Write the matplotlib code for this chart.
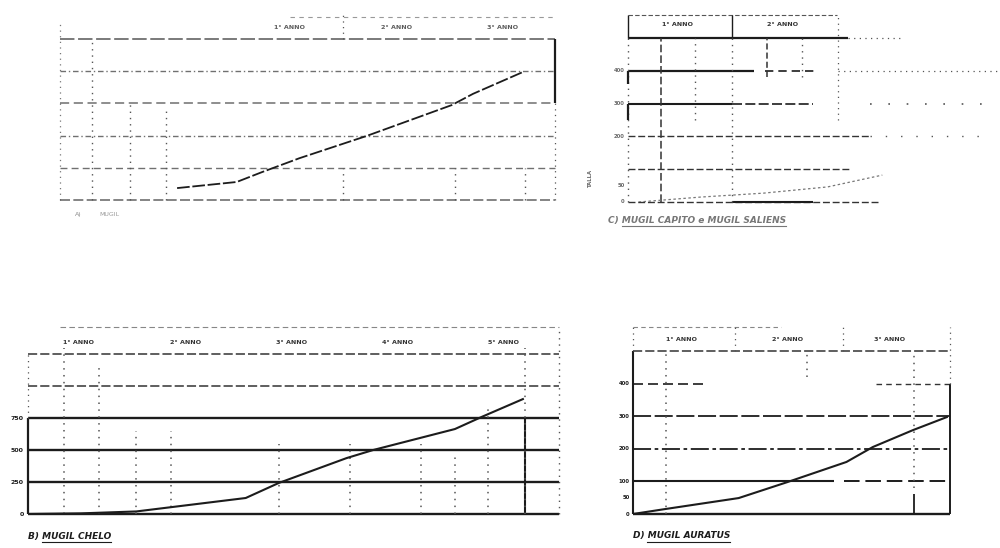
import matplotlib
matplotlib.use('Agg')
import matplotlib.pyplot as plt
from matplotlib.lines import Line2D

plt.rcParams['font.family'] = ['DejaVu Sans']

# growth curves (x in years, y in the panel's units)
a_years = [1.10, 1.66, 1.90, 2.25, 2.88, 3.68, 3.88, 4.35]
a_size = [3.7, 5.6, 8.7, 13.0, 19.9, 29.5, 33.0, 39.8]

b_years = [0, 0.5, 1.02, 2.05, 2.36, 3.0, 3.25, 4.02, 4.27, 4.66]
b_size = [0, 5, 20, 125, 242, 437, 500, 664, 758, 898]

c_years = [0.1, 0.69, 1.29, 1.90, 2.42]
c_size = [0, 15, 27, 46, 82]

d_years = [0, 0.3, 1.0, 1.46, 2.02, 2.27, 2.65, 2.97]
d_size = [0, 15, 49, 98, 160, 206, 258, 298]

# header labels (age classes)
a_heads = ['1° ANNO', '2° ANNO', '3° ANNO']
b_heads = ['1° ANNO', '2° ANNO', '3° ANNO', '4° ANNO', '5° ANNO']
c_heads = ['1° ANNO', '2° ANNO']
d_heads = ['1° ANNO', '2° ANNO', '3° ANNO']

b_ticks = [0, 250, 500, 750]
c_ticks = [0, 50, 200, 300, 400]
d_ticks = [0, 50, 100, 200, 300, 400]

captions = ['A) MUGIL', 'B) MUGIL CHELO', 'C) MUGIL CAPITO e MUGIL SALIENS', 'D) MUGIL AURATUS']

INK = '#1c1c1c'
GREY = '#555555'
DOT = (0, (1, 3.5))

fig = plt.figure(figsize=(10, 5.48), dpi=100)


def panel(x0, x1, ytop, ybot, xlim, ylim):
    ax = fig.add_axes([x0 / 1000, 1 - ybot / 548, (x1 - x0) / 1000, (ybot - ytop) / 548])
    ax.set_xlim(xlim)
    ax.set_ylim(ylim)
    ax.axis('off')
    return ax


def hl(ax, y, x0, x1, ls='-', lw=1.4, c=INK, a=1.0):
    ax.plot([x0, x1], [y, y], ls=ls, lw=lw, color=c, alpha=a, clip_on=False, solid_capstyle='butt')


def vl(ax, x, y0, y1, ls=DOT, lw=1.0, c=GREY, a=1.0):
    ax.plot([x, x], [y0, y1], ls=ls, lw=lw, color=c, alpha=a, clip_on=False, solid_capstyle='butt')


def heads(ax, labels, xs, y, a=1.0):
    for lab, x in zip(labels, xs):
        ax.text(x, y, lab, ha='center', va='center', fontsize=4.6, fontweight='bold',
                color='#333333', alpha=a)


def caption(ax, text, x, y, a=1.0):
    t = ax.text(x, y, text, transform=ax.transAxes, fontsize=6.5, fontstyle='italic',
                fontweight='bold', color=INK, alpha=a, va='baseline', ha='left')
    return t


# ---------------- A (top left)
axa = panel(60, 555, 15, 200, (0, 4.65), (0, 57.5))
for lev, ls, lw in [(0, (0, (6, 2)), 1.2), (10, (0, (5, 3)), 1.0), (20, (0, (4, 2, 1, 2)), 1.0),
                    (30, (0, (6, 3)), 1.1), (40, (0, (4, 2, 1, 2)), 1.0), (50, (0, (8, 2)), 1.3)]:
    hl(axa, lev, 0, 4.65, ls=ls, lw=lw, c='#333333', a=0.7)
hl(axa, 56.8, 2.16, 4.65, ls=(0, (4, 4)), lw=0.8, c=GREY, a=0.6)
vl(axa, 2.66, 50, 57.5, lw=0.9)
vl(axa, 0, 0, 55, lw=0.9, a=0.8)
vl(axa, 4.65, 30, 50, ls='-', lw=1.6, c=INK)
vl(axa, 4.65, 0, 30, lw=0.9)
for x, y0, y1 in [(0.30, 0, 50), (0.66, 0, 30), (1.0, 0, 28), (2.66, 0, 10),
                  (3.71, 0, 10), (4.37, 0, 10)]:
    vl(axa, x, y0, y1, lw=1.0)
axa.plot(a_years, a_size, ls=(0, (7, 1.5)), lw=1.3, color=INK)
heads(axa, a_heads, [2.16, 3.16, 4.16], 53.7, a=0.8)
axa.text(0.03, -0.08, 'A)', transform=axa.transAxes, fontsize=4.5, color='#888888', va='center')
axa.text(0.08, -0.08, 'MUGIL', transform=axa.transAxes, fontsize=4.5, color='#999999', va='center')

# ---------------- B (bottom left)
axb = panel(28, 559, 325, 514, (0, 5), (0, 1477))
for lev in [0, 250, 500, 750]:
    hl(axb, lev, 0, 5, lw=1.7)
hl(axb, 1000, 0, 5, ls=(0, (6, 2)), lw=1.1, c='#333333')
hl(axb, 1250, 0, 5, ls=(0, (6, 2)), lw=1.1, c='#333333')
hl(axb, 1461, 0.3, 5, ls=(0, (5, 3)), lw=0.8, c=GREY, a=0.7)
vl(axb, 0, 0, 750, ls='-', lw=1.6, c=INK)
vl(axb, 0, 750, 1250, lw=0.9)
vl(axb, 4.68, 0, 750, ls='-', lw=1.5, c=INK)
vl(axb, 5.0, 0, 1460, lw=1.0)
for x, top in zip([0.34, 0.67, 1.02, 1.35, 2.36, 3.03, 3.70, 4.02, 4.33, 4.68],
                  [1300, 1150, 650, 650, 550, 550, 550, 480, 820, 1300]):
    vl(axb, x, 0, top, lw=1.1)
axb.plot(b_years, b_size, lw=1.5, color=INK)
heads(axb, b_heads, [i + 0.48 for i in range(5)], 1344)
for v in b_ticks:
    axb.text(-0.04, v, str(v), ha='right', va='center', fontsize=4.5, fontweight='bold', color=INK)

# ---------------- C (top right)
axc = panel(628, 1000, 15, 202, (0, 3.54), (0, 570))
hl(axc, 500, 0, 2.09, lw=1.6)
hl(axc, 500, 2.09, 2.6, ls=DOT, lw=0.9, c=GREY)
hl(axc, 400, 0, 1.2, lw=1.6)
hl(axc, 400, 1.3, 1.8, ls=(0, (5, 3)), lw=1.2)
hl(axc, 400, 2.0, 3.54, ls=DOT, lw=0.9, c=GREY)
hl(axc, 300, 0, 0.99, lw=1.5)
hl(axc, 300, 0.99, 1.76, ls=(0, (6, 2)), lw=1.2)
hl(axc, 300, 2.3, 3.5, ls=(0, (1, 10)), lw=1.2, c=GREY)
hl(axc, 200, 0, 2.3, ls=(0, (5, 2)), lw=1.0, c='#333333')
hl(axc, 200, 2.3, 3.4, ls=(0, (1, 10)), lw=1.0, c=GREY)
hl(axc, 100, 0, 2.1, ls=(0, (5, 2)), lw=1.0, c='#333333')
hl(axc, 0, 0, 2.4, ls=(0, (5, 2)), lw=1.0, c='#333333')
hl(axc, 0, 0.99, 1.76, lw=1.5)
hl(axc, 570, 0, 1.99, ls=(0, (4, 2)), lw=0.8, c=GREY)
vl(axc, 0, 500, 570, ls='-', lw=1.0, c=INK)
vl(axc, 0.99, 500, 570, ls='-', lw=1.0, c=INK)
vl(axc, 2.0, 250, 570, lw=0.9)
vl(axc, 0, 0, 500, lw=1.0)
vl(axc, 0, 360, 400, ls='-', lw=1.6, c=INK)
vl(axc, 0, 250, 300, ls='-', lw=1.6, c=INK)
vl(axc, 0.31, 0, 500, ls=(0, (5, 2)), lw=1.1, c='#333333')
vl(axc, 0.64, 250, 500, lw=1.0)
vl(axc, 0.99, 0, 500, lw=1.0)
vl(axc, 1.32, 380, 500, ls=(0, (4, 2)), lw=1.1, c='#333333')
vl(axc, 1.66, 380, 500, lw=1.0)
axc.plot(c_years, c_size, ls=(0, (2, 2)), lw=0.9, color='#777777')
heads(axc, c_heads, [0.47, 1.47], 540)
for v in c_ticks:
    axc.text(-0.03, v, str(v), ha='right', va='center', fontsize=3.8, fontweight='bold',
             color='#444444', alpha=0.8)
axc.text(-0.36, 70, 'TALLA', rotation=90, ha='center', va='center', fontsize=3.8,
         fontweight='bold', color='#444444', alpha=0.8)

# ---------------- D (bottom right)
axd = panel(633, 950, 327, 514, (0, 3), (0, 575))
hl(axd, 0, 0, 3, lw=1.7)
hl(axd, 100, 0, 1.9, lw=1.5)
hl(axd, 100, 2.0, 3, ls=(0, (8, 3)), lw=1.4)
hl(axd, 200, 0, 3, ls=(0, (10, 2, 2, 2)), lw=1.3)
hl(axd, 300, 0, 3, ls=(0, (10, 2)), lw=1.3)
hl(axd, 400, 0, 0.7, ls=(0, (6, 3)), lw=1.2)
hl(axd, 400, 2.3, 3, ls=(0, (4, 3)), lw=1.0, c='#333333')
hl(axd, 500, 0, 3, ls=(0, (6, 2)), lw=1.1, c='#333333')
hl(axd, 575, 0, 1.4, ls=(0, (4, 3)), lw=0.8, c=GREY, a=0.7)
vl(axd, 0, 0, 500, ls='-', lw=1.5, c=INK)
vl(axd, 0, 500, 575, lw=0.9)
vl(axd, 3.0, 0, 400, ls='-', lw=1.4, c=INK)
vl(axd, 3.0, 400, 575, lw=0.9)
vl(axd, 0.965, 500, 575, lw=0.9)
vl(axd, 1.99, 500, 575, lw=0.9)
for x, y0, y1 in [(0.31, 0, 500), (1.65, 420, 500), (2.66, 80, 500)]:
    vl(axd, x, y0, y1, lw=1.1)
vl(axd, 2.66, 0, 60, ls='-', lw=1.3, c=INK)
axd.plot(d_years, d_size, lw=1.5, color=INK)
heads(axd, d_heads, [0.46, 1.46, 2.43], 538)
for v in d_ticks:
    axd.text(-0.03, v, str(v), ha='right', va='center', fontsize=3.8, fontweight='bold', color=INK)

# captions with underline
caps = []
caps.append(caption(axb, captions[1], 0.0, -0.13))
caps.append(caption(axc, captions[2], -0.055, -0.11, a=0.6))
caps.append(caption(axd, captions[3], 0.0, -0.13))

fig.canvas.draw()
r = fig.canvas.get_renderer()
for t in caps:
    bb = t.get_window_extent(renderer=r)
    x0, y0 = fig.transFigure.inverted().transform((bb.x0 + 14, bb.y0 - 1.5))
    x1, _ = fig.transFigure.inverted().transform((bb.x1, bb.y0))
    fig.add_artist(Line2D([x0, x1], [y0, y0], lw=0.8, color=t.get_color(), alpha=t.get_alpha()))

fig.savefig('out.png', dpi=100)
